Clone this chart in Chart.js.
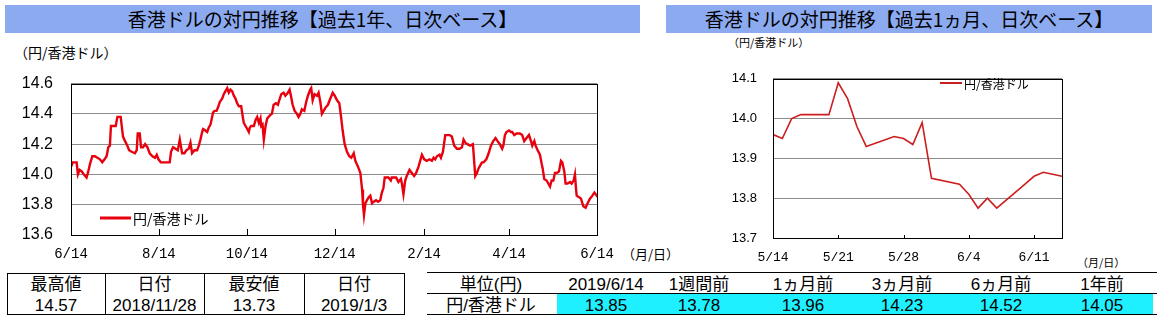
<!DOCTYPE html>
<html lang="ja">
<head>
<meta charset="utf-8">
<title>香港ドルの対円推移</title>
<script src="https://cdn.jsdelivr.net/npm/chart.js@4/dist/chart.umd.min.js"></script>
<style>
body{margin:0;background:#fff;}
#page{position:relative;width:1157px;height:321px;overflow:hidden;font-family:"Noto Sans CJK JP",sans-serif;color:#000;}
.t{position:absolute;white-space:nowrap;line-height:1;}
.mid{transform:translate(-50%,-50%);font-family:"Liberation Sans","Noto Sans CJK JP",sans-serif;}
.bar{position:absolute;top:5px;height:28px;background:#8caaf0;font-size:19px;line-height:28px;text-align:center;white-space:nowrap;}
canvas{position:absolute;}
.hl{position:absolute;height:1px;background:#000;}
.vl{position:absolute;width:1px;background:#000;}
</style>
</head>
<body>
<div id="page">
  <div class="bar" style="left:5px;width:635px">香港ドルの対円推移【過去1年、日次ベース】</div>
  <div class="bar" style="left:666px;width:486px">香港ドルの対円推移【過去1ヵ月、日次ベース】</div>

  <div class="t" style="left:14px;top:45px;font-size:14px">（円/香港ドル）</div>
  <div class="t" style="left:728px;top:37px;font-size:11px">（円/香港ドル）</div>
  <div class="t" style="left:622px;top:247px;font-size:13px">（月/日）</div>
  <div class="t" style="left:1077px;top:257px;font-size:11px">（月/日）</div>

  <canvas id="yearChart" width="665" height="214" style="left:0;top:56px"></canvas>
  <canvas id="monthChart" width="497" height="215" style="left:660px;top:55px"></canvas>

  <div id="tables"></div>
</div>

<script>
// 1年チャート（2018/6/14 からの経過日数）
const yearTickDays = [0, 61, 122, 183, 245, 304, 365];
const yearTickLabels = ['6/14', '8/14', '10/14', '12/14', '2/14', '4/14', '6/14'];
const yearDay = [
  0, 1.3, 3.9, 4.8, 6.0, 7.4, 9.0, 10.8, 12.0, 13.2, 14.8, 16.6, 18.3, 20.1, 21.7, 23.3, 24.7, 25.9, 27.0, 27.7,
  29.8, 31.0, 32.2, 34.5, 35.2, 36.1, 37.5, 39.1, 40.3, 42.1, 44.4, 45.6, 46.3, 47.7, 48.6, 50.0, 51.4, 53.0, 54.6, 56.5,
  58.3, 59.5, 60.7, 62.3, 63.9, 66.7, 68.5, 69.4, 70.8, 72.5, 74.1, 75.5, 76.4, 77.1, 78.7, 80.1, 81.7, 82.9, 84.0, 85.7,
  87.5, 88.7, 89.8, 91.0, 91.7, 93.3, 94.5, 95.6, 96.8, 98.6, 99.6, 101.0, 101.9, 103.3, 104.9, 106.0, 107.2, 108.4, 109.5, 110.7,
  111.8, 113.0, 114.2, 115.3, 116.5, 118.1, 119.2, 119.9, 121.1, 122.3, 123.4, 124.1, 125.0, 126.9, 128.1, 129.2, 130.4, 131.5, 132.0, 132.9,
  133.8, 135.0, 136.2, 138.0, 139.4, 140.6, 142.2, 143.6, 144.5, 145.9, 147.5, 148.7, 150.5, 151.7, 152.8, 153.8, 155.2, 156.8, 157.9, 159.1,
  160.2, 161.9, 163.0, 164.4, 166.0, 166.7, 167.7, 169.0, 170.7, 171.8, 173.0, 174.1, 175.3, 176.5, 178.3, 179.9, 181.6, 183.0, 184.6, 186.2,
  187.4, 188.5, 189.9, 191.5, 193.1, 194.5, 196.2, 197.3, 199.2, 200.8, 202.0, 202.6, 203.3, 204.3, 205.4, 206.6, 207.7, 208.9, 210.1, 211.7,
  213.1, 214.6, 215.7, 216.8, 217.7, 218.7, 220.3, 221.9, 222.6, 224.2, 225.6, 227.2, 228.9, 229.6, 230.7, 231.9, 233.0, 234.9, 236.5, 238.1,
  239.5, 241.1, 242.3, 243.5, 245.1, 246.9, 248.8, 250.4, 251.6, 252.7, 253.9, 255.7, 256.7, 258.1, 259.7, 260.8, 262.7, 264.3, 265.9, 267.8,
  269.6, 271.3, 272.4, 273.6, 275.2, 277.0, 278.9, 280.5, 281.7, 282.8, 284.0, 285.2, 286.3, 288.2, 289.8, 291.4, 293.0, 294.6, 296.0, 297.6,
  299.2, 300.0, 301.1, 302.2, 303.9, 305.3, 306.2, 307.6, 309.2, 311.5, 313.1, 314.5, 316.1, 317.8, 319.2, 320.1, 321.5, 322.4, 323.8, 325.4,
  326.6, 327.3, 328.4, 330.0, 331.2, 332.4, 333.5, 334.7, 335.8, 337.0, 338.6, 340.0, 340.9, 342.3, 343.2, 344.6, 346.3, 347.4, 348.8, 349.7,
  350.4, 350.9, 352.5, 353.9, 355.5, 357.1, 358.5, 360.1, 361.8, 363.2, 364.8, 365.0
];
const yearRate = [
  14.05, 14.08, 14.08, 14.00, 14.03, 14.02, 14.00, 13.98, 14.02, 14.07, 14.12, 14.12, 14.11, 14.10, 14.08, 14.10, 14.12, 14.18, 14.19, 14.32,
  14.32, 14.32, 14.38, 14.38, 14.32, 14.25, 14.22, 14.19, 14.16, 14.15, 14.14, 14.16, 14.27, 14.27, 14.18, 14.18, 14.20, 14.18, 14.14, 14.12,
  14.11, 14.13, 14.10, 14.08, 14.08, 14.08, 14.08, 14.15, 14.18, 14.17, 14.16, 14.23, 14.18, 14.14, 14.14, 14.16, 14.17, 14.21, 14.14, 14.16,
  14.16, 14.19, 14.23, 14.28, 14.30, 14.29, 14.28, 14.31, 14.33, 14.41, 14.42, 14.42, 14.44, 14.48, 14.50, 14.53, 14.55, 14.57, 14.54, 14.56,
  14.55, 14.52, 14.50, 14.47, 14.45, 14.45, 14.38, 14.34, 14.32, 14.30, 14.28, 14.31, 14.32, 14.32, 14.36, 14.38, 14.34, 14.37, 14.32, 14.33,
  14.23, 14.32, 14.37, 14.39, 14.40, 14.46, 14.47, 14.46, 14.49, 14.53, 14.54, 14.52, 14.54, 14.56, 14.51, 14.46, 14.42, 14.40, 14.38, 14.40,
  14.43, 14.42, 14.47, 14.52, 14.56, 14.57, 14.49, 14.53, 14.52, 14.54, 14.48, 14.40, 14.42, 14.44, 14.46, 14.50, 14.54, 14.52, 14.49, 14.47,
  14.38, 14.29, 14.20, 14.15, 14.12, 14.11, 14.14, 14.09, 14.05, 14.01, 13.90, 13.80, 13.73, 13.81, 13.83, 13.85, 13.86, 13.81, 13.82, 13.83,
  13.82, 13.83, 13.88, 13.91, 13.98, 13.98, 13.98, 13.96, 13.98, 13.98, 13.98, 13.95, 13.97, 13.94, 13.87, 13.96, 13.99, 14.03, 14.01, 13.99,
  14.01, 14.05, 14.09, 14.13, 14.10, 14.09, 14.10, 14.09, 14.11, 14.10, 14.12, 14.13, 14.11, 14.15, 14.26, 14.26, 14.26, 14.25, 14.19, 14.17,
  14.17, 14.18, 14.23, 14.21, 14.20, 14.19, 14.20, 13.99, 14.01, 14.04, 14.06, 14.08, 14.08, 14.10, 14.14, 14.19, 14.22, 14.24, 14.22, 14.20,
  14.17, 14.19, 14.26, 14.28, 14.29, 14.28, 14.28, 14.26, 14.27, 14.27, 14.26, 14.22, 14.24, 14.26, 14.22, 14.19, 14.22, 14.19, 14.16, 14.13,
  14.07, 14.04, 13.97, 13.96, 13.94, 13.92, 13.96, 13.96, 14.01, 14.01, 14.02, 14.09, 14.08, 14.02, 13.94, 13.94, 13.95, 13.94, 13.96, 14.00,
  13.91, 13.86, 13.85, 13.84, 13.79, 13.78, 13.81, 13.84, 13.86, 13.88, 13.86, 13.85
];

// 1ヵ月チャート（営業日）
const monthDates = ['5/14', '5/15', '5/16', '5/17', '5/20', '5/21', '5/22', '5/23', '5/24', '5/27', '5/28', '5/29',
  '5/30', '5/31', '6/3', '6/4', '6/5', '6/6', '6/7', '6/10', '6/11', '6/12', '6/13', '6/14'];
const monthRate = [13.96, 13.95, 14.00, 14.01, 14.01, 14.09, 14.05, 13.98, 13.93, 13.955, 13.95, 13.935,
  13.99, 13.85, 13.835, 13.81, 13.775, 13.80, 13.775, 13.835, 13.855, 13.865, 13.86, 13.855];
const monthTickLabels = ['5/14', '5/21', '5/28', '6/4', '6/11'];
const monthEnd = '6/14';

const seriesName = '円/香港ドル';

// 表
const extremeHeads = ['最高値', '日付', '最安値', '日付'];
const extremeValues = ['14.57', '2018/11/28', '13.73', '2019/1/3'];
const compareUnit = '単位(円)';
const compareHeads = ['2019/6/14', '1週間前', '1ヵ月前', '3ヵ月前', '6ヵ月前', '1年前'];
const compareValues = [13.85, 13.78, 13.96, 14.23, 14.52, 14.05];

function dayOf(md) {
  const [m, d] = md.split('/').map(Number);
  return (Date.UTC(2019, m - 1, d) - Date.UTC(2019, 4, 14)) / 864e5;
}

const frame = {
  id: 'frame',
  afterDatasetsDraw(chart, args, opts) {
    const { ctx, chartArea: a, scales: { x } } = chart;
    ctx.save();
    ctx.strokeStyle = '#000';
    ctx.lineWidth = 1;
    ctx.beginPath();
    x.ticks.forEach(t => {
      const px = Math.round(x.getPixelForValue(t.value)) + 0.5;
      ctx.moveTo(px, a.bottom);
      ctx.lineTo(px, a.bottom - opts.tick);
    });
    ctx.stroke();
    ctx.strokeRect(Math.round(a.left) + 0.5, Math.round(a.top) + 0.5,
      Math.round(a.right - a.left), Math.round(a.bottom - a.top));
    ctx.restore();
  }
};

const lineKey = {
  id: 'lineKey',
  afterDraw(chart, args, o) {
    const ds = chart.data.datasets[0];
    const ctx = chart.ctx;
    ctx.save();
    ctx.strokeStyle = ds.borderColor;
    ctx.lineWidth = o.lw;
    ctx.beginPath();
    ctx.moveTo(o.x, o.y);
    ctx.lineTo(o.x + o.w, o.y);
    ctx.stroke();
    ctx.fillStyle = '#000';
    ctx.font = o.font;
    ctx.textBaseline = 'middle';
    ctx.fillText(ds.label, o.x + o.w + 2, o.y + 1);
    ctx.restore();
  }
};

function lineChart(id, points, o) {
  return new Chart(document.getElementById(id), {
    type: 'line',
    data: {
      datasets: [{
        label: seriesName,
        data: points,
        borderColor: o.color,
        borderWidth: o.width,
        pointRadius: 0,
        tension: 0,
        fill: false
      }]
    },
    options: {
      responsive: false,
      animation: false,
      devicePixelRatio: 1,
      layout: { padding: { top: o.padTop, right: o.padRight, left: 0, bottom: 0 } },
      plugins: {
        legend: { display: false },
        tooltip: { enabled: false },
        frame: { tick: o.tick },
        lineKey: o.key
      },
      scales: {
        x: {
          type: 'linear',
          min: o.xMin,
          max: o.xMax,
          afterBuildTicks: s => { s.ticks = o.xTicks.map(v => ({ value: v })); },
          afterFit: s => { s.height = o.xHeight; },
          grid: { display: false, drawTicks: false },
          border: { display: false },
          ticks: {
            autoSkip: false,
            maxRotation: 0,
            padding: o.xPad,
            color: '#000',
            font: o.xFont,
            callback: v => o.xLabels[o.xTicks.indexOf(v)]
          }
        },
        y: {
          min: o.yMin,
          max: o.yMax,
          afterFit: s => { s.width = o.yWidth; },
          grid: { color: '#8c8c8c', drawTicks: false },
          border: { display: false },
          ticks: {
            stepSize: o.yStep,
            padding: o.yPad,
            color: '#000',
            font: o.yFont,
            callback: v => v.toFixed(1)
          }
        }
      }
    },
    plugins: [frame, lineKey]
  });
}

lineChart('yearChart', yearDay.map((d, i) => ({ x: d, y: yearRate[i] })), {
  color: '#e8000e', width: 2.4,
  padTop: 12, padRight: 68, yWidth: 71, xHeight: 35, xPad: 11, yPad: 18, tick: 6,
  xMin: yearTickDays[0], xMax: yearTickDays[yearTickDays.length - 1],
  xTicks: yearTickDays, xLabels: yearTickLabels,
  xFont: { family: 'Liberation Mono', size: 14 },
  yMin: 13.6, yMax: 14.6, yStep: 0.2,
  yFont: { family: 'Liberation Sans', size: 16 },
  key: { x: 100, y: 162, w: 31, lw: 3, font: '14px "Noto Sans CJK JP"' }
});

const monthTickDays = monthTickLabels.map(dayOf);
lineChart('monthChart', monthDates.map((d, i) => ({ x: dayOf(d), y: monthRate[i] })), {
  color: '#cc1e1e', width: 1.6,
  padTop: 10, padRight: 95, yWidth: 113, xHeight: 32, xPad: 12, yPad: 16, tick: 3,
  xMin: 0, xMax: dayOf(monthEnd),
  xTicks: monthTickDays, xLabels: monthTickLabels,
  xFont: { family: 'Liberation Mono', size: 13 },
  yMin: 13.7, yMax: 14.1, yStep: 0.1,
  yFont: { family: 'Liberation Sans', size: 13 },
  key: { x: 280, y: 28, w: 22, lw: 2, font: '12px "Noto Sans CJK JP"' }
});

// 表の描画
const tables = document.getElementById('tables');
function put(html) { tables.insertAdjacentHTML('beforeend', html); }
function text(str, cx, cy, size) {
  put(`<div class="t mid" style="left:${cx}px;top:${cy}px;font-size:${size}px">${str}</div>`);
}

const extremeCols = [7, 105, 204, 304, 404];
put(`<div class="hl" style="left:7px;top:273px;width:398px"></div>`);
put(`<div class="hl" style="left:7px;top:314px;width:398px"></div>`);
extremeCols.forEach(x => put(`<div class="vl" style="left:${x}px;top:273px;height:42px"></div>`));
extremeHeads.forEach((h, i) => {
  const cx = (extremeCols[i] + extremeCols[i + 1]) / 2;
  text(h, cx, 284, 17);
  text(extremeValues[i], cx, 305, 17);
});

put(`<div style="position:absolute;left:557px;top:293px;width:596px;height:21px;background:#1ff0ff"></div>`);
put(`<div class="hl" style="left:427px;top:272px;width:730px"></div>`);
put(`<div class="hl" style="left:427px;top:293px;width:730px"></div>`);
put(`<div class="hl" style="left:427px;top:314px;width:730px"></div>`);
text(compareUnit, 491, 284, 17);
text(seriesName, 491, 305, 17);
const compareCenters = [606, 699, 803, 902, 1001, 1102];
compareHeads.forEach((h, i) => {
  text(h, compareCenters[i], 284, 17);
  text(compareValues[i].toFixed(2), compareCenters[i], 305, 17);
});
</script>
</body>
</html>
